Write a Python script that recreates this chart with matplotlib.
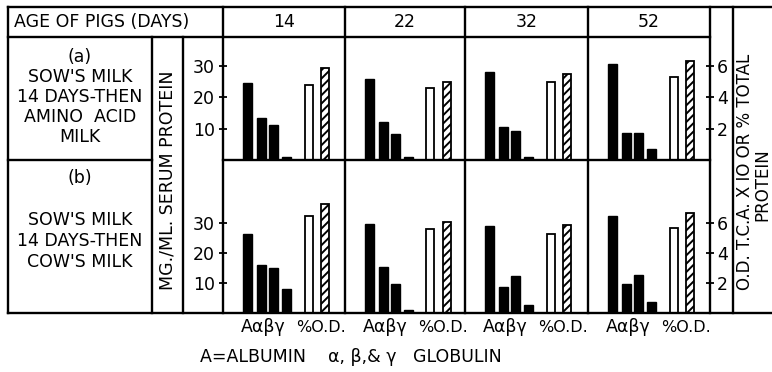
import numpy as np
import matplotlib
matplotlib.use('Agg')
import matplotlib.pyplot as plt
from matplotlib.lines import Line2D

plt.rcParams['font.family'] = ['DejaVu Sans']
plt.rcParams['hatch.linewidth'] = 1.4

# data
days = ['14', '22', '32', '52']
components = ['A', 'α', 'β', 'γ']

# (a) sow's milk 14 days then amino acid milk -- mg/ml serum protein
albumin_a = [24.5, 25.8, 28.0, 30.6]
alpha_a = [13.5, 12.3, 10.6, 8.7]
beta_a = [11.3, 8.4, 9.4, 8.7]
gamma_a = [1.0, 1.0, 1.0, 3.5]
# O.D. T.C.A. x 10 or % total protein
pct_a = [4.8, 4.6, 5.0, 5.3]
od_a = [5.9, 5.0, 5.5, 6.3]

# (b) sow's milk 14 days then cow's milk
albumin_b = [26.3, 29.7, 29.0, 32.3]
alpha_b = [16.0, 15.3, 8.7, 9.7]
beta_b = [15.0, 9.7, 12.3, 12.7]
gamma_b = [8.0, 1.0, 2.7, 3.7]
pct_b = [6.5, 5.6, 5.3, 5.7]
od_b = [7.3, 6.1, 5.9, 6.7]

left_ticks = [10, 20, 30]
right_ticks = [2, 4, 6]

# layout in pixels
W, H = 772, 372
def fx(x):
    return x / W
def fy(y):
    return 1 - y / H

fig = plt.figure(figsize=(W / 100, H / 100), dpi=100)

panel_x = [223, 345, 465, 588, 710]
rows = [(37, 160, 39.3), (160, 313, 51.0)]   # top px, bottom px, left ylim
slots_black = [24.5, 38.5, 50.5, 63.0]
slot_pct, slot_od = 85.5, 102.0

row_data = [
    (albumin_a, alpha_a, beta_a, gamma_a, pct_a, od_a),
    (albumin_b, alpha_b, beta_b, gamma_b, pct_b, od_b),
]

for r, (top, bot, ymax) in enumerate(rows):
    alb, alp, bet, gam, pct, od = row_data[r]
    for i in range(4):
        l, rr = panel_x[i], panel_x[i + 1]
        ax = fig.add_axes([fx(l), fy(bot), (rr - l) / W, (bot - top) / H])
        ax.set_xlim(0, rr - l)
        ax.set_ylim(0, ymax)
        vals = [alb[i], alp[i], bet[i], gam[i]]
        ax.bar(slots_black, vals, width=9, color='black', edgecolor='black')
        ax2 = ax.twinx()
        ax2.set_ylim(0, ymax / 5)
        ax2.bar([slot_pct], [pct[i]], width=8, color='white', edgecolor='black', lw=1.3)
        ax2.bar([slot_od], [od[i]], width=8, color='white', edgecolor='black', lw=1.3,
                hatch='////')
        for a in (ax, ax2):
            for s in a.spines.values():
                s.set_visible(False)
            a.set_xticks([])
            a.patch.set_visible(False)
        if i == 0:
            ax.set_yticks(left_ticks)
            ax.tick_params(axis='y', direction='inout', length=6, width=1.3,
                           labelsize=12.5, pad=3)
        else:
            ax.set_yticks([])
        if i == 3:
            ax2.set_yticks(right_ticks)
            ax2.tick_params(axis='y', direction='inout', length=6, width=1.3,
                            labelsize=12.5, pad=2)
        else:
            ax2.set_yticks([])

# frame lines
lines = [
    ((8, 7), (772, 7)),
    ((8, 37), (710, 37)),
    ((8, 160), (152, 160)),
    ((223, 160), (710, 160)),
    ((8, 313), (772, 313)),
    ((8, 7), (8, 313)),
    ((152, 37), (152, 313)),
    ((183, 37), (183, 313)),
    ((733, 7), (733, 313)),
]
for x in panel_x:
    lines.append(((x, 7), (x, 313)))
for (x0, y0), (x1, y1) in lines:
    fig.add_artist(Line2D([fx(x0), fx(x1)], [fy(y0), fy(y1)],
                          transform=fig.transFigure, color='black', lw=1.7))

fs = 12.5
fig.text(fx(14), fy(22), 'AGE OF PIGS (DAYS)', fontsize=fs, ha='left', va='center')
for i, d in enumerate(days):
    fig.text(fx((panel_x[i] + panel_x[i + 1]) / 2), fy(22), d, fontsize=fs,
             ha='center', va='center')

label_a = ['(a)', "SOW'S MILK", '14 DAYS-THEN', 'AMINO  ACID', 'MILK']
ya = [57, 77, 97, 117, 137]
for t, y in zip(label_a, ya):
    fig.text(fx(80), fy(y), t, fontsize=fs, ha='center', va='center')
label_b = ['(b)', "SOW'S MILK", '14 DAYS-THEN', "COW'S MILK"]
yb = [178, 220, 241, 262]
for t, y in zip(label_b, yb):
    fig.text(fx(80), fy(y), t, fontsize=fs, ha='center', va='center')

fig.text(fx(168), fy(180), 'MG./ML. SERUM PROTEIN', fontsize=fs, rotation=90,
         ha='center', va='center')
fig.text(fx(745), fy(172), 'O.D. T.C.A. X IO OR % TOTAL', fontsize=12, rotation=90,
         ha='center', va='center')
fig.text(fx(762), fy(185), 'PROTEIN', fontsize=12, rotation=90,
         ha='center', va='center')

for i in range(4):
    l = panel_x[i]
    fig.text(fx(l + 40), fy(327), ''.join(components), fontsize=fs,
             ha='center', va='center')
    fig.text(fx(l + 98), fy(327), '%O.D.', fontsize=fs - 1,
             ha='center', va='center')

fig.text(fx(200), fy(357), 'A=ALBUMIN    α, β,& γ   GLOBULIN', fontsize=fs,
         ha='left', va='center')

fig.savefig('out.png', dpi=100)
